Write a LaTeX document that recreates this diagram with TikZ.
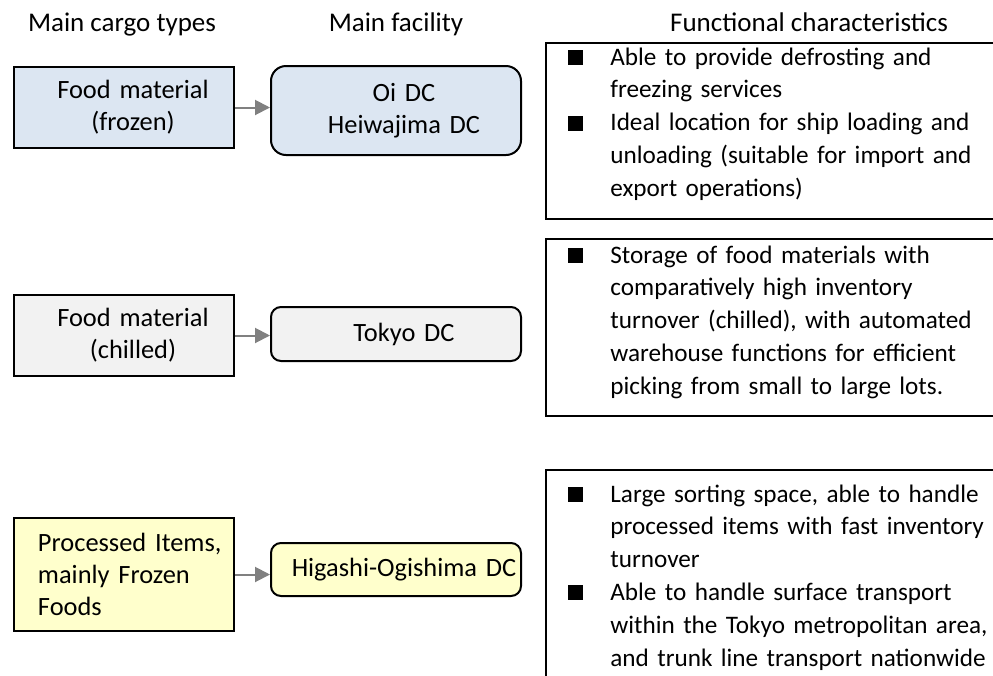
\documentclass[tikz,border=0pt]{standalone}
\usepackage{fontspec}
\setmainfont{Carlito}
\usepackage{tikz}
\usetikzlibrary{arrows.meta}
\definecolor{frozenblue}{HTML}{DCE6F2}
\definecolor{chilledgray}{HTML}{F2F2F2}
\definecolor{processedyellow}{HTML}{FFFFCC}
\definecolor{arrowgray}{HTML}{808080}
\newcommand{\featbullet}{\makebox[21pt][l]{\rule{7.5pt}{7.5pt}}}
\newcommand{\featindent}{\hspace*{21pt}}
\tikzstyle{every node}=[font=\fontsize{13.2}{16}\selectfont]
\tikzstyle{cargo}=[draw, line width=1pt, minimum width=110pt, text width=104pt, inner xsep=3pt, align=center, execute at begin node={\advance\leftskip by 9pt}]
\tikzstyle{facility}=[draw, line width=1pt, minimum width=125pt, text width=119pt, inner xsep=3pt, align=center, execute at begin node={\advance\leftskip by 8pt}]
\tikzstyle{featurebox}=[draw, line width=1pt, anchor=north west, minimum width=240pt]
\tikzstyle{feature}=[anchor=base west, inner sep=0pt, text width=250pt, align=left, font=\fontsize{12.6}{16.4}\selectfont]
\tikzstyle{heading}=[anchor=base, font=\fontsize{13.5}{16}\selectfont]
\tikzstyle{arrow}=[draw=arrowgray, line width=1pt, -{Triangle[length=7.5pt, width=7.5pt]}]

\begin{document}
\begin{tikzpicture}[x=0.5pt, y=-0.5pt]
		\useasboundingbox (0,0) rectangle (993,676);
		\clip (0,0) rectangle (993,676);
		\begin{scope}
			\node (h1)[heading] at (122, 31) {Main cargo types};
			\node (h2)[heading] at (396, 31) {Main facility};
			\node (h3)[heading] at (809, 31) {Functional characteristics};
		\end{scope}
		\begin{scope}
			\node (a1)[cargo, fill=frozenblue, minimum height=40.5pt] at (124, 107.5) {Food material\\(frozen)};
			\node (a2)[cargo, fill=chilledgray, minimum height=40.5pt] at (124, 335.5) {Food material\\(chilled)};
			\node (a3)[cargo, fill=processedyellow, minimum height=56.5pt, align=left] at (124, 574.5) {Processed Items,\\mainly Frozen\\Foods};
			\node (b1)[facility, fill=frozenblue, minimum height=44.5pt, rounded corners=7.5pt] at (396, 110.5) {Oi DC\\Heiwajima DC};
			\node (b2)[facility, fill=chilledgray, minimum height=27pt, rounded corners=5pt] at (396, 334) {Tokyo DC};
			\node (b3)[facility, fill=processedyellow, minimum height=26.5pt, rounded corners=5pt] at (396, 569.5) {\makebox[0pt]{Higashi-Ogishima DC}};
		\end{scope}
		\begin{scope}
			\node (fb1)[featurebox, minimum height=88pt] at (545, 42) {};
			\node (fb2)[featurebox, minimum height=88.5pt] at (545, 238) {};
			\node (fb3)[featurebox, minimum height=125pt] at (545, 469) {};
			\node (fn1)[feature] at (568, 65) {\featbullet Able to provide defrosting and\\
				\featindent freezing services\\
				\featbullet Ideal location for ship loading and\\
				\featindent unloading (suitable for import and\\
				\featindent export operations)};
			\node (fn2)[feature] at (568, 263) {\featbullet Storage of food materials with\\
				\featindent comparatively high inventory\\
				\featindent turnover (chilled), with automated\\
				\featindent warehouse functions for efficient\\
				\featindent picking from small to large lots.};
			\node (fn3)[feature] at (568, 502) {\featbullet Large sorting space, able to handle\\
				\featindent processed items with fast inventory\\
				\featindent turnover\\
				\featbullet Able to handle surface transport\\
				\featindent within the Tokyo metropolitan area,\\
				\featindent and trunk line transport nationwide};
		\end{scope}
		\begin{scope}
			\draw [arrow] (a1.east) -- (a1.east -| b1.west);
			\draw [arrow] (a2.east) -- (a2.east -| b2.west);
			\draw [arrow] (a3.east) -- (a3.east -| b3.west);
		\end{scope}
\end{tikzpicture}
\end{document}
